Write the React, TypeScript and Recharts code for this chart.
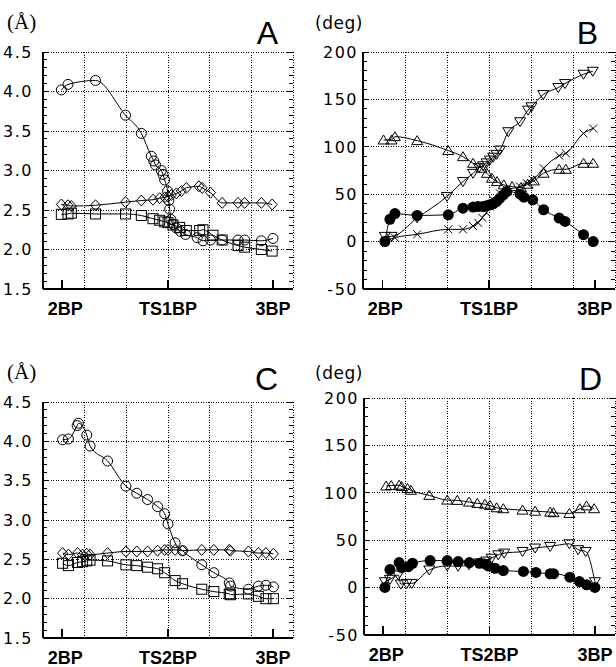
import React from 'react';
import { Line, LineChart, XAxis, YAxis } from 'recharts';

type Pt = [number, number];

// x positions: 0..6 = the six grid columns, labelled structures sit at these
const X_TICKS = [0.46, 3, 5.52];
const LABELS_TS1 = ['2BP', 'TS1BP', '3BP'];
const LABELS_TS2 = ['2BP', 'TS2BP', '3BP'];
const GRID_X = [1, 2, 3, 4, 5, 6];

const DIST_MAJOR = [1.5, 2.0, 2.5, 3.0, 3.5, 4.0, 4.5];
const ANGLE_MAJOR = [-50, 0, 50, 100, 150, 200];
const DIST_MINOR = Array.from({ length: 31 }, (_, i) => Math.round((1.5 + i * 0.1) * 10) / 10);
const ANGLE_MINOR = Array.from({ length: 26 }, (_, i) => -50 + i * 10);

// panel A (distances, Å)
const aCircles: Pt[] = [
  [0.44, 4.02], [0.6, 4.09], [1.26, 4.14], [1.98, 3.7], [2.36, 3.47], [2.6, 3.18], [2.66, 3.12],
  [2.7, 3.07], [2.84, 3.0], [2.88, 2.95], [2.92, 2.88], [2.99, 2.74], [3.02, 2.62], [3.04, 2.51],
  [3.07, 2.38], [3.12, 2.32], [3.2, 2.27], [3.3, 2.23], [3.42, 2.19], [3.7, 2.15], [3.84, 2.11],
  [4.02, 2.12], [4.3, 2.12], [4.68, 2.12], [4.84, 2.12], [5.24, 2.11], [5.52, 2.14],
];
const aDiamonds: Pt[] = [
  [0.44, 2.57], [0.6, 2.56], [0.68, 2.55], [1.26, 2.56], [1.98, 2.6], [2.36, 2.62], [2.64, 2.63],
  [2.8, 2.65], [2.92, 2.66], [3.0, 2.67], [3.08, 2.69], [3.2, 2.71], [3.32, 2.74], [3.44, 2.78],
  [3.74, 2.8], [3.82, 2.78], [4.02, 2.72], [4.3, 2.59], [4.68, 2.59], [4.84, 2.59], [5.24, 2.59],
  [5.5, 2.57],
];
const aSquares: Pt[] = [
  [0.44, 2.445], [0.6, 2.45], [0.68, 2.46], [1.26, 2.45], [1.98, 2.45], [2.36, 2.43], [2.64, 2.39],
  [2.8, 2.37], [2.92, 2.35], [3.0, 2.34], [3.12, 2.31], [3.28, 2.28], [3.44, 2.24], [3.76, 2.24],
  [3.84, 2.25], [4.08, 2.18], [4.3, 2.12], [4.68, 2.05], [4.84, 2.03], [5.24, 2.0], [5.5, 1.98],
];

// panel B (angles, deg)
const bFilled: Pt[] = [
  [0.52, 0], [0.64, 23.5], [0.76, 29.6], [1.29, 27.6], [2.03, 28.3], [2.38, 35.3], [2.62, 36.4],
  [2.74, 37], [2.86, 37], [2.94, 37.8], [3.02, 38.8], [3.1, 39.9], [3.18, 42.3], [3.26, 45.8],
  [3.34, 49.3], [3.42, 52.8], [3.74, 50], [3.83, 46.9], [4.04, 44.1], [4.3, 33.6], [4.67, 24.8],
  [4.81, 21.3], [5.25, 7.3], [5.48, 0],
];
const bDown: Pt[] = [
  [0.52, 5.5], [0.68, 5.5], [1.29, 25], [2.0, 47.6], [2.38, 63.3], [2.62, 72], [2.76, 78],
  [2.86, 80], [2.94, 83], [3.02, 86], [3.1, 89], [3.18, 92], [3.26, 96.6], [3.46, 115.9],
  [3.74, 126.4], [3.93, 138.7], [4.01, 142.2], [4.29, 155.1], [4.65, 162.5], [4.81, 166.7],
  [5.25, 176.5], [5.47, 179.7],
];
const bUp: Pt[] = [
  [0.49, 107.2], [0.68, 107.2], [0.76, 110.7], [1.29, 106.5], [2.03, 96], [2.38, 89.6],
  [2.62, 82.6], [2.82, 77.4], [2.95, 72], [3.07, 66.8], [3.19, 63.3], [3.35, 59.9], [3.55, 58],
  [3.76, 57], [3.92, 60.5], [4.07, 64], [4.3, 72.1], [4.67, 76.3], [4.83, 76.3], [5.25, 82.6],
  [5.48, 82.6],
];
const bCross: Pt[] = [
  [0.52, 0.7], [0.76, 4.2], [1.29, 7.7], [2.03, 12.9], [2.38, 12.9], [2.62, 16.4], [2.74, 19.9],
  [2.84, 25.2], [2.94, 30.4], [3.02, 37], [3.1, 44], [3.26, 51], [3.42, 54.6], [3.74, 58.1],
  [3.9, 61.6], [4.04, 65.1], [4.3, 77.4], [4.67, 90.7], [4.83, 93.1], [5.25, 114.1], [5.48, 119.4],
];

// panel C (distances, Å)
const cCircles: Pt[] = [
  [0.47, 4.02], [0.61, 4.03], [0.82, 4.2], [0.85, 4.23], [1.05, 4.08], [1.13, 3.94], [1.55, 3.75],
  [1.99, 3.43], [2.25, 3.34], [2.51, 3.26], [2.75, 3.17], [2.92, 3.08], [3.0, 2.95], [3.17, 2.71],
  [3.35, 2.61], [3.81, 2.43], [4.1, 2.33], [4.47, 2.2], [4.5, 2.16], [4.93, 2.12], [5.17, 2.16],
  [5.35, 2.17], [5.53, 2.15],
];
const cDiamonds: Pt[] = [
  [0.47, 2.58], [0.61, 2.56], [0.83, 2.58], [0.95, 2.56], [1.05, 2.57], [1.13, 2.56], [1.55, 2.58],
  [1.99, 2.6], [2.25, 2.6], [2.51, 2.6], [2.75, 2.61], [2.92, 2.62], [3.0, 2.62], [3.17, 2.62],
  [3.35, 2.61], [3.81, 2.62], [4.1, 2.62], [4.47, 2.62], [4.5, 2.61], [4.93, 2.6], [5.17, 2.58],
  [5.35, 2.58], [5.53, 2.57],
];
const cSquares: Pt[] = [
  [0.47, 2.45], [0.61, 2.42], [0.83, 2.46], [0.95, 2.47], [1.05, 2.48], [1.13, 2.49], [1.55, 2.48],
  [1.99, 2.43], [2.25, 2.42], [2.51, 2.4], [2.75, 2.38], [2.92, 2.33], [3.17, 2.23], [3.35, 2.19],
  [3.81, 2.12], [4.1, 2.09], [4.47, 2.06], [4.5, 2.05], [4.93, 2.06], [5.17, 2.03], [5.35, 2.0],
  [5.53, 2.0],
];

// panel D (angles, deg)
const dUp: Pt[] = [
  [0.53, 107.2], [0.65, 107.6], [0.84, 108], [0.9, 106.6], [1.04, 104.5], [1.12, 102.7],
  [1.56, 97.3], [1.99, 92.3], [2.23, 92], [2.51, 90.2], [2.71, 88.8], [2.89, 88], [3.01, 86.7],
  [3.17, 84.2], [3.33, 83.2], [3.79, 81.7], [4.09, 80.6], [4.45, 79.6], [4.53, 79], [4.91, 78.2],
  [5.16, 83.2], [5.32, 86.2], [5.5, 83.2],
];
const dFilled: Pt[] = [
  [0.5, 0.2], [0.62, 19], [0.84, 26.4], [0.9, 21], [1.06, 22.1], [1.16, 25.7], [1.58, 28.5],
  [1.99, 28.5], [2.25, 27.5], [2.52, 26.4], [2.76, 25.7], [2.92, 24.5], [2.97, 22.9], [3.13, 20.4],
  [3.33, 18], [3.81, 17], [4.11, 16], [4.45, 14.6], [4.53, 14.6], [4.92, 11], [5.15, 6.4],
  [5.32, 2.9], [5.52, 0.2],
];
const dDown: Pt[] = [
  [0.5, 6.2], [0.62, 8.7], [0.82, 13.3], [0.88, 3.7], [1.02, 4.4], [1.14, 4.4], [1.56, 18.6],
  [1.99, 22.9], [2.25, 22.5], [2.51, 24], [2.76, 26], [2.92, 28], [3.05, 31], [3.21, 34.6],
  [3.35, 36.4], [3.79, 38.1], [4.09, 41.7], [4.45, 43.4], [4.91, 46.2], [5.12, 40], [5.3, 38.1],
  [5.52, 6.2],
];

type Shape = 'circle' | 'diamond' | 'square' | 'up' | 'down' | 'filled' | 'cross';

const Marker = ({ cx, cy, shape }: { cx: number; cy: number; shape: Shape }) => {
  const s = { stroke: '#000', strokeWidth: 1, fill: 'none' };
  if (shape === 'circle') return <circle cx={cx} cy={cy} r={5} {...s} />;
  if (shape === 'filled') return <circle cx={cx} cy={cy} r={5.5} fill="#000" />;
  if (shape === 'square') return <rect x={cx - 5} y={cy - 5} width={10} height={10} {...s} />;
  if (shape === 'diamond')
    return <polygon points={`${cx},${cy - 5.5} ${cx + 5},${cy} ${cx},${cy + 5.5} ${cx - 5},${cy}`} {...s} />;
  if (shape === 'up')
    return <polygon points={`${cx},${cy - 5} ${cx + 5.5},${cy + 4} ${cx - 5.5},${cy + 4}`} {...s} />;
  if (shape === 'down')
    return <polygon points={`${cx},${cy + 5} ${cx + 5.5},${cy - 4} ${cx - 5.5},${cy - 4}`} {...s} />;
  return (
    <g stroke="#000" strokeWidth={1}>
      <line x1={cx - 4} y1={cy - 4} x2={cx + 4} y2={cy + 4} />
      <line x1={cx - 4} y1={cy + 4} x2={cx + 4} y2={cy - 4} />
    </g>
  );
};

interface Series {
  pts: Pt[];
  shape: Shape;
}

interface Box {
  left: number;
  top: number;
  width: number;
  height: number;
  plotTop: number;
  yAxisWidth: number;
  rightSpace: number;
  xAxisHeight: number;
}

// page placement of the four panels (chart box + plot insets)
const BOX_A: Box = { left: 0, top: 0, width: 300, height: 320, plotTop: 52, yAxisWidth: 43, rightSpace: 7, xAxisHeight: 31 };
const BOX_B: Box = { left: 300, top: 0, width: 316, height: 320, plotTop: 52, yAxisWidth: 63, rightSpace: 1, xAxisHeight: 31 };
const BOX_C: Box = { left: 0, top: 330, width: 300, height: 337, plotTop: 72, yAxisWidth: 43, rightSpace: 7, xAxisHeight: 29 };
const BOX_D: Box = { left: 300, top: 330, width: 316, height: 337, plotTop: 68, yAxisWidth: 64, rightSpace: 1, xAxisHeight: 32 };

interface AxisSpec {
  domain: [number, number];
  major: number[];
  minor: number[];
}

const DIST_AXIS: AxisSpec = { domain: [1.5, 4.5], major: DIST_MAJOR, minor: DIST_MINOR };
const ANGLE_AXIS: AxisSpec = { domain: [-50, 200], major: ANGLE_MAJOR, minor: ANGLE_MINOR };

const isMajorOf = (major: number[], v: number) => major.some((m) => Math.abs(m - v) < 1e-6);

// dotted grid, frame and inward ticks, drawn under the chart
const Frame = ({ box, axis }: { box: Box; axis: AxisSpec }) => {
  const L = box.left + box.yAxisWidth;
  const R = box.left + box.width - box.rightSpace;
  const T = box.top + box.plotTop;
  const B = box.top + box.height - box.xAxisHeight;
  const [y0, y1] = axis.domain;
  const sy = (v: number) => B - ((v - y0) / (y1 - y0)) * (B - T);
  const sx = (g: number) => L + (g / 6) * (R - L);
  const dot = { stroke: '#000', strokeWidth: 1, strokeDasharray: '1 1.5' };
  return (
    <g shapeRendering="crispEdges">
      {GRID_X.map((g) => (
        <line key={`gx${g}`} x1={sx(g)} x2={sx(g)} y1={T} y2={B} {...dot} />
      ))}
      {axis.major.slice(1).map((v) => (
        <line key={`gy${v}`} x1={L} x2={R} y1={sy(v)} y2={sy(v)} {...dot} />
      ))}
      {axis.minor.map((v) => {
        const len = isMajorOf(axis.major, v) ? 6 : 4;
        return (
          <g key={`t${v}`} stroke="#000" strokeWidth={1}>
            <line x1={L} x2={L + len} y1={sy(v)} y2={sy(v)} />
            <line x1={R - len} x2={R} y1={sy(v)} y2={sy(v)} />
          </g>
        );
      })}
      {X_TICKS.map((t) => (
        <line key={`xt${t}`} x1={sx(t)} x2={sx(t)} y1={B - 9} y2={B} stroke="#000" strokeWidth={1.5} />
      ))}
      <line x1={L} x2={L} y1={T} y2={B} stroke="#000" strokeWidth={1.5} />
      <line x1={L} x2={R} y1={B} y2={B} stroke="#000" strokeWidth={1.5} />
    </g>
  );
};

interface PanelProps {
  box: Box;
  axis: AxisSpec;
  fmt: (v: number) => string;
  labelGap: number;
  xLabels: string[];
  series: Series[];
}

const Panel = ({ box, axis, fmt, labelGap, xLabels, series }: PanelProps) => {
  const leftTick = (props: any) => {
    const { x, y, payload } = props;
    if (!isMajorOf(axis.major, payload.value)) return <g />;
    return (
      <text
        x={x - labelGap}
        y={y}
        dy="0.36em"
        textAnchor="end"
        fontFamily="DejaVu Sans"
        fontSize={16}
        style={{ letterSpacing: 1.5 }}
        fill="#000"
      >
        {fmt(payload.value)}
      </text>
    );
  };

  const bottomTick = (props: any) => {
    const { x, y, payload } = props;
    const i = X_TICKS.findIndex((t) => Math.abs(t - payload.value) < 1e-6);
    return (
      <text
        x={x + (i === 0 ? 3 : 0)}
        y={y + 26}
        textAnchor="middle"
        fontFamily="Liberation Sans, Arial, sans-serif"
        fontWeight="bold"
        fontSize={18}
        fill="#000"
      >
        {xLabels[i]}
      </text>
    );
  };

  return (
    <div style={{ position: 'absolute', left: box.left, top: box.top }}>
      <LineChart
        width={box.width}
        height={box.height}
        margin={{ top: box.plotTop, right: box.rightSpace, bottom: 0, left: 0 }}
      >
        <XAxis
          dataKey="x"
          type="number"
          domain={[0, 6]}
          ticks={X_TICKS}
          interval={0}
          height={box.xAxisHeight}
          tickSize={0}
          tickMargin={0}
          tickLine={false}
          axisLine={false}
          tick={bottomTick}
        />
        <YAxis
          yAxisId="l"
          type="number"
          domain={axis.domain}
          ticks={axis.minor}
          interval={0}
          width={box.yAxisWidth}
          tickSize={0}
          tickMargin={0}
          tickLine={false}
          axisLine={false}
          tick={leftTick}
        />
        {series.map((s, si) => (
          <Line
            key={si}
            yAxisId="l"
            data={s.pts.map(([x, y]) => ({ x, y }))}
            dataKey="y"
            type="monotone"
            stroke="#000"
            strokeWidth={1}
            isAnimationActive={false}
            activeDot={false}
            dot={(d: any) => <Marker key={`m${si}-${d.index}`} cx={d.cx} cy={d.cy} shape={s.shape} />}
          />
        ))}
      </LineChart>
    </div>
  );
};

const dist = (v: number) => v.toFixed(1);
const angle = (v: number) => String(v);

export default function App() {
  return (
    <div
      style={{
        position: 'absolute',
        left: 0,
        top: 0,
        width: 616,
        height: 667,
        background: '#fff',
        overflow: 'hidden',
      }}
    >
      <svg width={616} height={667} style={{ position: 'absolute', left: 0, top: 0 }}>
        <Frame box={BOX_A} axis={DIST_AXIS} />
        <Frame box={BOX_B} axis={ANGLE_AXIS} />
        <Frame box={BOX_C} axis={DIST_AXIS} />
        <Frame box={BOX_D} axis={ANGLE_AXIS} />
      </svg>
      <Panel
        box={BOX_A} axis={DIST_AXIS} fmt={dist} labelGap={10} xLabels={LABELS_TS1}
        series={[
          { pts: aCircles, shape: 'circle' },
          { pts: aDiamonds, shape: 'diamond' },
          { pts: aSquares, shape: 'square' },
        ]}
      />
      <Panel
        box={BOX_B} axis={ANGLE_AXIS} fmt={angle} labelGap={5} xLabels={LABELS_TS1}
        series={[
          { pts: bUp, shape: 'up' },
          { pts: bDown, shape: 'down' },
          { pts: bCross, shape: 'cross' },
          { pts: bFilled, shape: 'filled' },
        ]}
      />
      <Panel
        box={BOX_C} axis={DIST_AXIS} fmt={dist} labelGap={10} xLabels={LABELS_TS2}
        series={[
          { pts: cCircles, shape: 'circle' },
          { pts: cDiamonds, shape: 'diamond' },
          { pts: cSquares, shape: 'square' },
        ]}
      />
      <Panel
        box={BOX_D} axis={ANGLE_AXIS} fmt={angle} labelGap={5} xLabels={LABELS_TS2}
        series={[
          { pts: dUp, shape: 'up' },
          { pts: dDown, shape: 'down' },
          { pts: dFilled, shape: 'filled' },
        ]}
      />
      <svg
        width={616}
        height={667}
        style={{ position: 'absolute', left: 0, top: 0, pointerEvents: 'none' }}
      >
        <g fill="#000">
          <text x={7} y={29} fontFamily="Liberation Serif, Times New Roman, serif" fontSize={21}>(Å)</text>
          <text x={7} y={379} fontFamily="Liberation Serif, Times New Roman, serif" fontSize={21}>(Å)</text>
          <text x={315} y={29} fontFamily="DejaVu Sans" fontSize={17} style={{ letterSpacing: 0.5 }}>(deg)</text>
          <text x={315} y={379} fontFamily="DejaVu Sans" fontSize={17} style={{ letterSpacing: 0.5 }}>(deg)</text>
          <text x={278} y={44} textAnchor="end" fontFamily="Liberation Sans, Arial" fontSize={32}>A</text>
          <text x={598} y={44} textAnchor="end" fontFamily="Liberation Sans, Arial" fontSize={32}>B</text>
          <text x={278} y={390} textAnchor="end" fontFamily="Liberation Sans, Arial" fontSize={32}>C</text>
          <text x={602} y={390} textAnchor="end" fontFamily="Liberation Sans, Arial" fontSize={32}>D</text>
        </g>
      </svg>
    </div>
  );
}
